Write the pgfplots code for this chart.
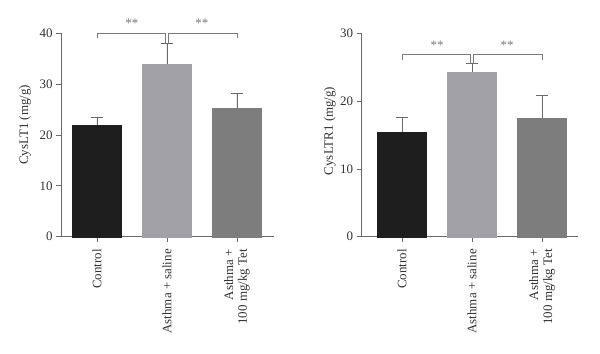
\documentclass[border=0pt]{standalone}
\usepackage{fontspec}
\setmainfont{Liberation Serif}
\usepackage{pgfplots}
\pgfplotsset{compat=1.18}
\definecolor{cA}{HTML}{1E1E1E}
\definecolor{cB}{HTML}{A2A1A6}
\definecolor{cC}{HTML}{7D7D7D}
\definecolor{axg}{HTML}{6A6A6A}
\definecolor{brg}{HTML}{7A7A7A}
\begin{document}
\begin{tikzpicture}
\path[use as bounding box] (0,0) rectangle (600bp,354bp);
\pgfplotsset{mybase/.style={
  scale only axis, anchor=south west, height=203.4bp,
  ymin=0, axis lines*=left, clip=false,
  axis line style={axg, line width=0.8pt},
  tick style={axg, line width=0.8pt},
  tick align=outside, major tick length=5bp,
  xtick={0,1,2},
  xticklabels={Control, Asthma + saline, {Asthma +\\100 mg/kg Tet}},
  xticklabel shift=4bp,
  xticklabel style={rotate=90, anchor=east, align=right, font=\fontsize{13}{14}\selectfont, text=black!80},
  yticklabel style={font=\fontsize{13}{14}\selectfont, text=black!80},
  /pgf/number format/assume math mode=true,
  ybar, bar width=49bp,
  error bars/error bar style={axg, line width=0.8pt},
  error bars/error mark options={rotate=90, mark size=6bp, axg, line width=0.8pt},
}}
% Left chart
\begin{axis}[mybase, at={(61bp,117.3bp)}, width=213bp, xmin=-0.514, xmax=2.53, ymax=40,
  ytick={0,10,20,30,40},
  ylabel={CysLT1 (mg/g)},
  every axis y label/.style={at={([xshift=-36bp]rel axis cs:0,0.55)}, rotate=90, anchor=center, font=\fontsize{13}{14}\selectfont, text=black!80}]
\addplot[fill=cA, draw=cA, bar shift=0pt, error bars/.cd, y dir=plus, y explicit] coordinates {(0,21.9) +- (0,1.6)};
\addplot[fill=cB, draw=cB, bar shift=0pt, error bars/.cd, y dir=plus, y explicit] coordinates {(1,34.0) +- (0,4.0)};
\addplot[fill=cC, draw=cC, bar shift=0pt, error bars/.cd, y dir=plus, y explicit] coordinates {(2,25.3) +- (0,2.9)};
\draw[brg, line width=0.7pt] (axis cs:0,39) -- (axis cs:0,40) -- (axis cs:0.977,40) -- (axis cs:0.977,38.1);
\draw[brg, line width=0.7pt] (axis cs:1.023,38.1) -- (axis cs:1.023,40) -- (axis cs:2,40) -- (axis cs:2,39);
\node[brg, font=\fontsize{13}{14}\selectfont] at (axis cs:0.5,41.9) {**};
\node[brg, font=\fontsize{13}{14}\selectfont] at (axis cs:1.5,41.9) {**};
\end{axis}
% Right chart
\begin{axis}[mybase, at={(361.7bp,117.3bp)}, width=216.3bp, xmin=-0.576, xmax=2.514, ymax=30,
  ytick={0,10,20,30},
  ylabel={CysLTR1 (mg/g)},
  every axis y label/.style={at={([xshift=-32bp]rel axis cs:0,0.52)}, rotate=90, anchor=center, font=\fontsize{13}{14}\selectfont, text=black!80}]
\addplot[fill=cA, draw=cA, bar shift=0pt, error bars/.cd, y dir=plus, y explicit] coordinates {(0,15.4) +- (0,2.2)};
\addplot[fill=cB, draw=cB, bar shift=0pt, error bars/.cd, y dir=plus, y explicit] coordinates {(1,24.3) +- (0,1.2)};
\addplot[fill=cC, draw=cC, bar shift=0pt, error bars/.cd, y dir=plus, y explicit] coordinates {(2,17.55) +- (0,3.25)};
\draw[brg, line width=0.7pt] (axis cs:0,26.0) -- (axis cs:0,26.9) -- (axis cs:0.977,26.9) -- (axis cs:0.977,25.5);
\draw[brg, line width=0.7pt] (axis cs:1.023,25.5) -- (axis cs:1.023,26.9) -- (axis cs:2,26.9) -- (axis cs:2,26.0);
\node[brg, font=\fontsize{13}{14}\selectfont] at (axis cs:0.5,28.3) {**};
\node[brg, font=\fontsize{13}{14}\selectfont] at (axis cs:1.5,28.3) {**};
\end{axis}
\end{tikzpicture}
\end{document}
